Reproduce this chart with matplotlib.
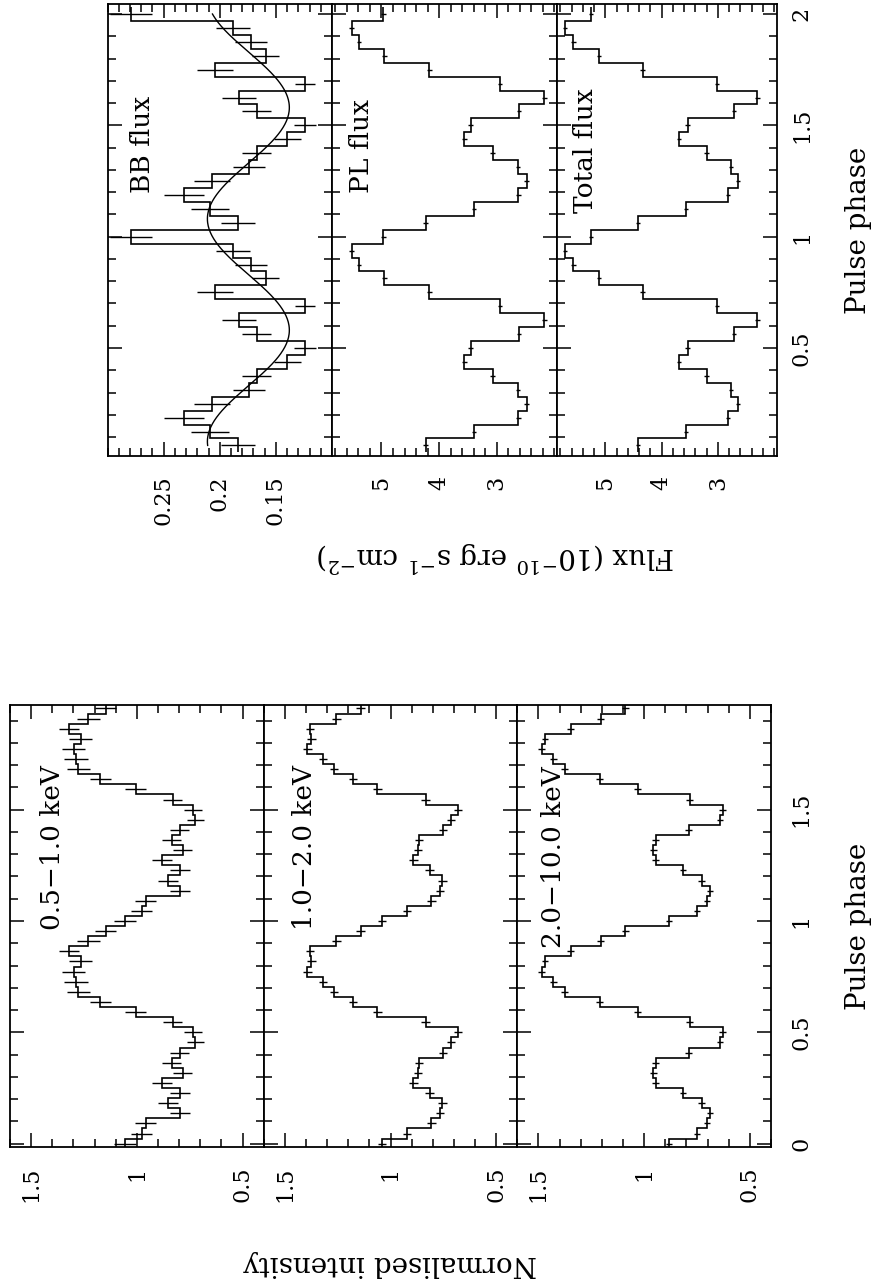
import numpy as np
import matplotlib
matplotlib.use("Agg")
import matplotlib.pyplot as plt
from matplotlib.ticker import MultipleLocator, FixedLocator, FormatStrFormatter

plt.rcParams['font.family'] = ['DejaVu Serif']
plt.rcParams['mathtext.fontset'] = 'dejavuserif'
plt.rcParams['ytick.alignment'] = 'center'

# ---- energy-resolved pulse profiles: one cycle, 22 phase bins (drawn twice)
band_names = ["0.5\u22121.0 keV", "1.0\u22122.0 keV", "2.0\u221210.0 keV"]
band_05_10 = [1.057, 0.978, 0.958, 0.797, 0.852, 0.794, 0.883, 0.784, 0.836, 0.797, 0.723,
              0.734, 0.831, 1.005, 1.172, 1.277, 1.288, 1.298, 1.266, 1.320, 1.230, 1.147]
err_05_10 = [0.052, 0.049, 0.049, 0.047, 0.047, 0.047, 0.047, 0.044, 0.047, 0.044, 0.041,
             0.043, 0.046, 0.049, 0.050, 0.055, 0.055, 0.054, 0.055, 0.047, 0.054, 0.050]
band_10_20 = [1.039, 0.921, 0.806, 0.766, 0.755, 0.815, 0.892, 0.869, 0.865, 0.751, 0.713,
              0.681, 0.834, 1.062, 1.177, 1.267, 1.319, 1.393, 1.374, 1.382, 1.256, 1.141]
err_10_20 = [0.020] * 22
band_20_100 = [0.883, 0.750, 0.703, 0.688, 0.727, 0.816, 0.945, 0.956, 0.945, 0.789, 0.641,
               0.628, 0.784, 1.031, 1.211, 1.375, 1.430, 1.484, 1.469, 1.347, 1.206, 1.089]
err_20_100 = [0.016] * 22

# ---- phase resolved spectroscopy: one cycle, 16 phase bins (drawn twice)
bb_flux = [0.279, 0.184, 0.209, 0.232, 0.207, 0.174, 0.167, 0.140,
           0.124, 0.167, 0.183, 0.124, 0.204, 0.159, 0.172, 0.188]
bb_err = [0.019, 0.015, 0.017, 0.018, 0.016, 0.014, 0.013, 0.012,
          0.010, 0.013, 0.015, 0.009, 0.016, 0.012, 0.014, 0.015]
pl_flux = [4.97, 4.23, 3.39, 2.62, 2.48, 2.63, 3.07, 3.56,
           3.45, 2.61, 2.17, 2.94, 4.17, 4.95, 5.39, 5.52]
pl_err = [0.04] * 16
total_flux = [5.26, 4.42, 3.57, 2.82, 2.64, 2.77, 3.20, 3.69,
              3.54, 2.71, 2.30, 3.02, 4.34, 5.11, 5.57, 5.72]
total_err = [0.04] * 16

# sinusoid fitted to the BB flux (mean, amplitude, phase of maximum)
bb_fit_mean = 0.1745
bb_fit_amp = 0.0365
bb_fit_peak = 0.08

W, H = 880.0, 1286.0
fig = plt.figure(figsize=(W / 100, H / 100), dpi=100)


def add_panel(x0, x1, y0, y1):
    return fig.add_axes([x0 / W, 1 - y1 / H, (x1 - x0) / W, (y1 - y0) / H])


def style(ax, xmaj, xmin, ymaj, ymin, last):
    ax.xaxis.set_major_locator(xmaj)
    ax.xaxis.set_minor_locator(xmin)
    ax.yaxis.set_major_locator(ymaj)
    ax.yaxis.set_minor_locator(ymin)
    ax.xaxis.set_major_formatter(FormatStrFormatter('%g'))
    ax.yaxis.set_major_formatter(FormatStrFormatter('%g'))
    ax.tick_params(which='both', direction='in', top=True, bottom=True,
                   left=True, right=True, width=1.1, labelleft=False,
                   labelright=last, labelsize=16)
    ax.tick_params(which='major', length=10)
    ax.tick_params(which='minor', length=5.5)
    ax.tick_params(axis='x', labelrotation=90, pad=14)
    ax.tick_params(axis='y', labelrotation=90, pad=14)
    for sp in ax.spines.values():
        sp.set_linewidth(1.3)


# ---------------- lower block: normalised intensity ----------------
bands = [(band_05_10, err_05_10), (band_10_20, err_10_20), (band_20_100, err_20_100)]
band_txt = [(1.397, 0.959), (1.405, 0.959), (1.427, 0.88)]
nb = len(band_05_10)
band_centres = np.arange(2 * nb) / nb
band_edges = (np.arange(2 * nb + 1) - 0.5) / nb
left_x = [10, 263.7, 517.3, 771]
for i, (vals, errs) in enumerate(bands):
    ax = add_panel(left_x[i], left_x[i + 1], 705, 1147)
    v = np.tile(vals, 2)
    e = np.tile(errs, 2)
    ax.stairs(v, band_edges, orientation='horizontal', baseline=None, color='k', lw=1.2)
    ax.errorbar(v, band_centres, xerr=e, fmt='none', ecolor='k', elinewidth=1.0, capsize=0)
    ax.set_xlim(1.6, 0.4)
    ax.set_ylim(-0.015, 1.970)
    style(ax, MultipleLocator(0.5), MultipleLocator(0.1),
          MultipleLocator(0.5), MultipleLocator(0.1), i == 2)
    ax.text(band_txt[i][0], band_txt[i][1], band_names[i], rotation=90,
            ha='center', va='bottom', fontsize=19)

# ---------------- upper block: fluxes ----------------
ns = len(bb_flux)
idx = np.arange(1, 2 * ns + 1)
spec_centres = idx / ns
spec_edges = (np.arange(1, 2 * ns + 2) - 0.5) / ns
right_x = [107.5, 332, 557, 777]
spec = [(bb_flux, bb_err, 'BB flux', (0.30, 0.10), (0.269, 1.196)),
        (pl_flux, pl_err, 'PL flux', (5.86, 1.95), (5.34, 1.196)),
        (total_flux, total_err, 'Total flux', (5.86, 1.95), (5.36, 1.106))]
for i, (vals, errs, name, xl, tp) in enumerate(spec):
    ax = add_panel(right_x[i], right_x[i + 1], 4, 456)
    v = np.asarray(vals)[idx % ns]
    e = np.asarray(errs)[idx % ns]
    ax.stairs(v, spec_edges, orientation='horizontal', baseline=None, color='k', lw=1.2)
    ax.errorbar(v, spec_centres, xerr=e, fmt='none', ecolor='k', elinewidth=1.0, capsize=0)
    if i == 0:
        ph = np.linspace(1 / ns, 2, 400)
        ax.plot(bb_fit_mean + bb_fit_amp * np.cos(2 * np.pi * (ph - bb_fit_peak)), ph,
                color='k', lw=1.0)
        xmaj, xmin = FixedLocator([0.15, 0.2, 0.25]), MultipleLocator(0.01)
    else:
        xmaj, xmin = FixedLocator([3, 4, 5]), MultipleLocator(0.2)
    ax.set_xlim(*xl)
    ax.set_ylim(0.015, 2.045)
    style(ax, xmaj, xmin, MultipleLocator(0.5), MultipleLocator(0.1), i == 2)
    if i == 2:
        ax.tick_params(axis='y', pad=10)
    ax.text(tp[0], tp[1], name, rotation=90, ha='center', va='bottom', fontsize=19)

fig.text(858 / W, 1 - 926 / H, "Pulse phase", rotation=90, ha='center', va='center', fontsize=20)
fig.text(858 / W, 1 - 230 / H, "Pulse phase", rotation=90, ha='center', va='center', fontsize=20)
fig.text(390 / W, 1 - 1263 / H, "Normalised intensity", rotation=180,
         ha='center', va='center', fontsize=20)
fig.text(496 / W, 1 - 557 / H, "Flux (10$^{-10}$ erg s$^{-1}$ cm$^{-2}$)", rotation=180,
         ha='center', va='center', fontsize=20)

fig.savefig("out.png", dpi=100)
